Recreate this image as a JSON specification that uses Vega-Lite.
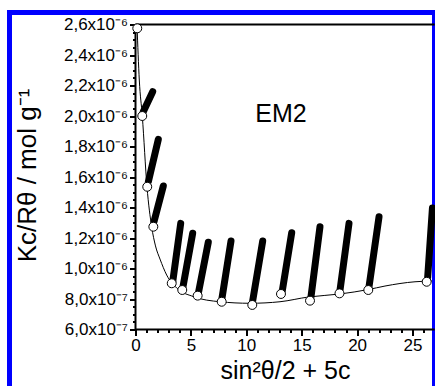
{
  "$schema": "https://vega.github.io/schema/vega-lite/v6.json",
  "width": 425,
  "height": 380,
  "autosize": {"type": "none"},
  "padding": {"left": 9.5, "top": 12.5, "right": 0, "bottom": 0},
  "background": "white",
  "config": {
    "view": {"stroke": "#0000ff", "strokeWidth": 5},
    "font": "Liberation Sans",
    "axis": {"grid": false, "domain": false, "tickColor": "black", "labelColor": "black", "titleColor": "black", "labelFont": "Liberation Sans", "titleFont": "Liberation Sans", "labelOverlap": false, "labelFlush": false, "labelBound": false}
  },
  "datasets": {
    "curve": [
      {"x": 0.135, "y": 2.597e-6}, {"x": 0.343, "y": 2.236e-6}, {"x": 0.614, "y": 2.0e-6},
      {"x": 1.038, "y": 1.534e-6}, {"x": 1.462, "y": 1.272e-6}, {"x": 1.805, "y": 1.148e-6},
      {"x": 2.211, "y": 1.062e-6}, {"x": 2.816, "y": 9.57e-7}, {"x": 3.718, "y": 8.72e-7},
      {"x": 5.217, "y": 8.16e-7}, {"x": 7.626, "y": 7.82e-7}, {"x": 10.334, "y": 7.72e-7},
      {"x": 13.042, "y": 7.82e-7}, {"x": 15.596, "y": 8.13e-7}, {"x": 18.457, "y": 8.33e-7},
      {"x": 21.011, "y": 8.62e-7}, {"x": 22.518, "y": 8.85e-7}, {"x": 25.226, "y": 9.13e-7},
      {"x": 26.76, "y": 9.18e-7}
    ],
    "circles": [
      {"x": 0.16, "y": 2.575e-6}, {"x": 0.61, "y": 2.0e-6}, {"x": 1.06, "y": 1.536e-6},
      {"x": 1.61, "y": 1.274e-6}, {"x": 3.27, "y": 9.03e-7}, {"x": 4.22, "y": 8.59e-7},
      {"x": 5.61, "y": 8.22e-7}, {"x": 7.78, "y": 7.82e-7}, {"x": 10.54, "y": 7.61e-7},
      {"x": 13.13, "y": 8.33e-7}, {"x": 15.75, "y": 7.89e-7}, {"x": 18.41, "y": 8.37e-7},
      {"x": 21.01, "y": 8.59e-7}, {"x": 26.28, "y": 9.13e-7}
    ],
    "rays": [
      {"ray": 1, "x": 0.70, "y": 2.028e-6}, {"ray": 1, "x": 1.55, "y": 2.159e-6},
      {"ray": 2, "x": 1.16, "y": 1.569e-6}, {"ray": 2, "x": 2.06, "y": 1.847e-6},
      {"ray": 3, "x": 1.67, "y": 1.307e-6}, {"ray": 3, "x": 2.51, "y": 1.541e-6},
      {"ray": 4, "x": 3.36, "y": 9.13e-7}, {"ray": 4, "x": 4.08, "y": 1.296e-6},
      {"ray": 5, "x": 4.26, "y": 8.70e-7}, {"ray": 5, "x": 5.16, "y": 1.231e-6},
      {"ray": 6, "x": 5.67, "y": 8.37e-7}, {"ray": 6, "x": 6.57, "y": 1.172e-6},
      {"ray": 7, "x": 7.78, "y": 7.93e-7}, {"ray": 7, "x": 8.62, "y": 1.180e-6},
      {"ray": 8, "x": 10.54, "y": 7.72e-7}, {"ray": 8, "x": 11.48, "y": 1.180e-6},
      {"ray": 9, "x": 13.25, "y": 8.54e-7}, {"ray": 9, "x": 14.10, "y": 1.235e-6},
      {"ray": 10, "x": 15.84, "y": 8.15e-7}, {"ray": 10, "x": 16.65, "y": 1.274e-6},
      {"ray": 11, "x": 18.46, "y": 8.59e-7}, {"ray": 11, "x": 19.27, "y": 1.296e-6},
      {"ray": 12, "x": 21.07, "y": 8.77e-7}, {"ray": 12, "x": 21.98, "y": 1.340e-6},
      {"ray": 13, "x": 26.37, "y": 9.42e-7}, {"ray": 13, "x": 26.80, "y": 1.397e-6}
    ]
  },
  "resolve": {"axis": {"x": "independent", "y": "independent"}},
  "layer": [
    {
      "data": {"name": "curve"},
      "mark": {"type": "line", "color": "black", "strokeWidth": 1, "interpolate": "monotone"},
      "encoding": {
        "x": {"field": "x", "type": "quantitative",
          "scale": {"domain": [-11.372, 26.986], "nice": false, "zero": false},
          "axis": {"orient": "bottom", "offset": -63, "values": [0, 5, 10, 15, 20, 25], "tickSize": 6, "tickWidth": 2,
            "labelFontSize": 17, "labelPadding": 2,
            "title": "sin²θ/2 + 5c", "titleFontSize": 25, "titleFontWeight": "normal",
            "titleX": 275.5, "titleY": 49, "titleBaseline": "alphabetic", "titleAlign": "center"}},
        "y": {"field": "y", "type": "quantitative",
          "scale": {"domain": [1.869e-7, 2.6787e-6], "nice": false, "zero": false},
          "axis": {"orient": "left", "offset": -126,
            "values": [6e-7, 8e-7, 1e-6, 1.2e-6, 1.4e-6, 1.6e-6, 1.8e-6, 2e-6, 2.2e-6, 2.4e-6, 2.6e-6],
            "tickSize": 6, "tickWidth": 2, "labelFontSize": 17, "labelPadding": 2,
            "labelExpr": "datum.value < 9.5e-7 ? replace(format(datum.value * 1e7, '.1f'), '.', ',') + 'x10⁻⁷' : replace(format(datum.value * 1e6, '.1f'), '.', ',') + 'x10⁻⁶'",
            "title": "Kc/Rθ / mol g⁻¹", "titleFontSize": 26, "titleFontWeight": "normal",
            "titleAngle": 270, "titleX": -108.5, "titleY": 162.5, "titleAlign": "center", "titleBaseline": "middle"}}
      }
    },
    {
      "data": {"values": [{}]},
      "mark": {"type": "rule", "color": "black", "strokeWidth": 2},
      "encoding": {
        "x": {"datum": 0, "type": "quantitative", "scale": {"domain": [-11.372, 26.986], "nice": false, "zero": false}, "axis": null},
        "y": {"datum": 6e-7, "type": "quantitative", "scale": {"domain": [1.869e-7, 2.6787e-6], "nice": false, "zero": false},
          "axis": {"orient": "left", "offset": -126, "labels": false, "title": null, "tickSize": 3, "tickWidth": 2,
            "values": [6.5e-7, 7e-7, 7.5e-7, 8.5e-7, 9e-7, 9.5e-7, 1.05e-6, 1.1e-6, 1.15e-6, 1.25e-6, 1.3e-6, 1.35e-6, 1.45e-6, 1.5e-6, 1.55e-6, 1.65e-6, 1.7e-6, 1.75e-6, 1.85e-6, 1.9e-6, 1.95e-6, 2.05e-6, 2.1e-6, 2.15e-6, 2.25e-6, 2.3e-6, 2.35e-6, 2.45e-6, 2.5e-6, 2.55e-6]}},
        "y2": {"datum": 2.6e-6}
      }
    },
    {
      "data": {"values": [{}]},
      "mark": {"type": "rule", "color": "black", "strokeWidth": 2},
      "encoding": {
        "x": {"datum": 0, "type": "quantitative", "scale": {"domain": [-11.372, 26.986], "nice": false, "zero": false},
          "axis": {"orient": "bottom", "offset": -63, "labels": false, "title": null, "tickSize": 3, "tickWidth": 2,
            "values": [1, 2, 3, 4, 6, 7, 8, 9, 11, 12, 13, 14, 16, 17, 18, 19, 21, 22, 23, 24, 26]}},
        "x2": {"datum": 27},
        "y": {"datum": 6e-7, "type": "quantitative", "scale": {"domain": [1.869e-7, 2.6787e-6], "nice": false, "zero": false}, "axis": null}
      }
    },
    {
      "data": {"values": [{}]},
      "mark": {"type": "rule", "color": "black", "strokeWidth": 2},
      "encoding": {
        "x": {"datum": 0, "type": "quantitative", "axis": null},
        "x2": {"datum": 27},
        "y": {"datum": 2.6e-6, "type": "quantitative", "axis": null}
      }
    },
    {
      "data": {"name": "rays"},
      "mark": {"type": "line", "color": "black", "strokeWidth": 7, "strokeCap": "round"},
      "encoding": {
        "x": {"field": "x", "type": "quantitative", "axis": null},
        "y": {"field": "y", "type": "quantitative", "axis": null},
        "detail": {"field": "ray", "type": "nominal"}
      }
    },
    {
      "data": {"name": "circles"},
      "mark": {"type": "point", "shape": "circle", "filled": true, "fill": "white", "stroke": "black", "strokeWidth": 1, "size": 80, "opacity": 1},
      "encoding": {
        "x": {"field": "x", "type": "quantitative", "axis": null},
        "y": {"field": "y", "type": "quantitative", "axis": null}
      }
    },
    {
      "data": {"values": [{}]},
      "mark": {"type": "text", "text": "EM2", "fontSize": 25, "font": "Liberation Sans", "align": "center", "baseline": "middle", "color": "black"},
      "encoding": {
        "x": {"datum": 13.13, "type": "quantitative", "axis": null},
        "y": {"datum": 2.013e-6, "type": "quantitative", "axis": null}
      }
    }
  ]
}
